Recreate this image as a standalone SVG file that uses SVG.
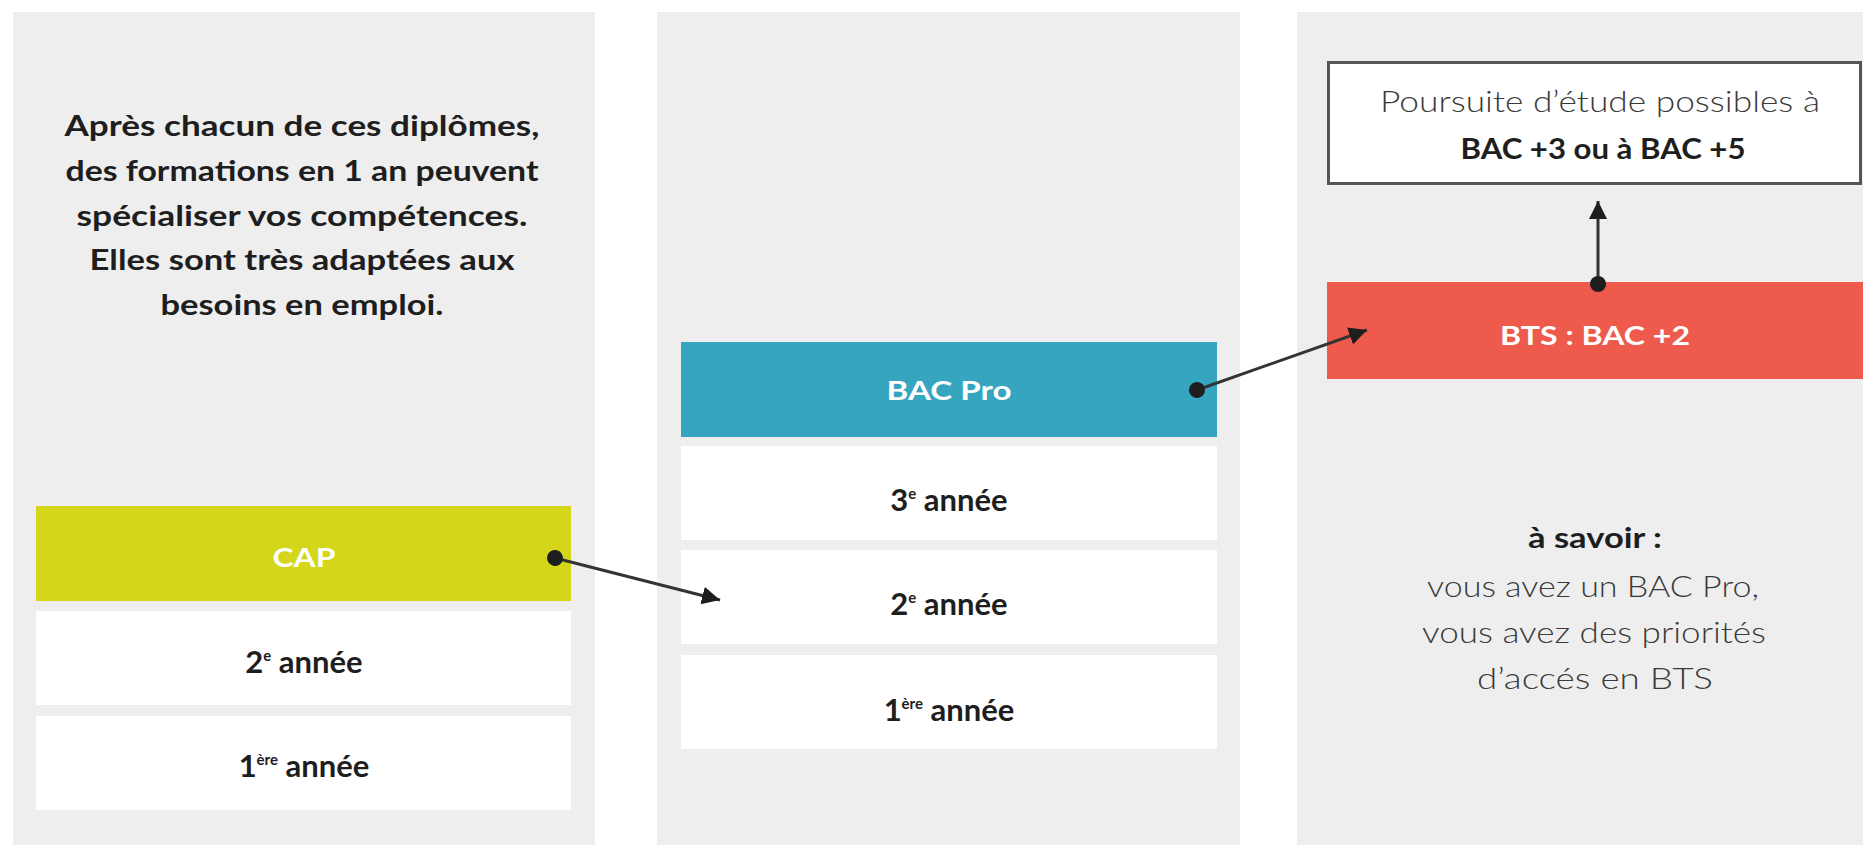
<svg xmlns="http://www.w3.org/2000/svg" width="1863" height="845" viewBox="0 0 1863 845">
  <defs>
    <style>
      .panel { fill: #eeeeee; }
      .row { fill: #ffffff; }
      .bold { font-family: Lato, "Open Sans", "Liberation Sans", sans-serif; font-weight: 700; }
      .light { font-family: Lato, "Open Sans", "Liberation Sans", sans-serif; font-weight: 300; fill: #3a3a3a; }
      .dark { fill: #1e1e1e; }
      .white { fill: #ffffff; }
      .mid { text-anchor: middle; }
      .lbl { font-size: 31px; }
      .conn { stroke: #333333; stroke-width: 3; fill: none; marker-start: url(#dot); marker-end: url(#arr); }
    </style>
    <marker id="arr" markerWidth="20" markerHeight="20" refX="18" refY="9" orient="auto" markerUnits="userSpaceOnUse">
      <path d="M0,0 L18,9 L0,18 z" fill="#1e1e1e"/>
    </marker>
    <marker id="dot" markerWidth="20" markerHeight="20" refX="10" refY="10" orient="auto" markerUnits="userSpaceOnUse">
      <circle cx="10" cy="10" r="8" fill="#1e1e1e"/>
    </marker>
  </defs>

  <rect x="0" y="0" width="1863" height="845" fill="#ffffff"/>

  <!-- Panels -->
  <g id="panel-left">
    <rect class="panel" x="13" y="12" width="582" height="833"/>
  </g>
  <g id="panel-middle">
    <rect class="panel" x="657" y="12" width="583" height="833"/>
  </g>
  <g id="panel-right">
    <rect class="panel" x="1297" y="12" width="566" height="833"/>
  </g>

  <!-- Left column -->
  <g id="note-left">
    <text class="bold dark mid" font-size="28" x="302" y="136" textLength="475" lengthAdjust="spacingAndGlyphs">Après chacun de ces diplômes,</text>
    <text class="bold dark mid" font-size="28" x="302" y="181" textLength="473" lengthAdjust="spacingAndGlyphs">des formations en 1 an peuvent</text>
    <text class="bold dark mid" font-size="28" x="302" y="226" textLength="451" lengthAdjust="spacingAndGlyphs">spécialiser vos compétences.</text>
    <text class="bold dark mid" font-size="28" x="302" y="270" textLength="425" lengthAdjust="spacingAndGlyphs">Elles sont très adaptées aux</text>
    <text class="bold dark mid" font-size="28" x="302" y="315" textLength="283" lengthAdjust="spacingAndGlyphs">besoins en emploi.</text>
  </g>

  <g id="cap">
    <rect x="36" y="506" width="535" height="95" fill="#d3d619"/>
    <text class="bold white mid" font-size="27" x="304" y="567" textLength="63" lengthAdjust="spacingAndGlyphs">CAP</text>
  </g>
  <g id="cap-2e">
    <rect class="row" x="36" y="611" width="535" height="94"/>
    <text class="bold dark mid lbl" x="304" y="673">2<tspan font-size="15" dy="-12">e</tspan><tspan dy="12"> année</tspan></text>
  </g>
  <g id="cap-1ere">
    <rect class="row" x="36" y="716" width="535" height="94"/>
    <text class="bold dark mid lbl" x="304" y="777">1<tspan font-size="15" dy="-12">ère</tspan><tspan dy="12"> année</tspan></text>
  </g>

  <!-- Middle column -->
  <g id="bacpro">
    <rect x="681" y="342" width="536" height="95" fill="#35a5c0"/>
    <text class="bold white mid" font-size="27" x="949" y="400" textLength="125" lengthAdjust="spacingAndGlyphs">BAC Pro</text>
  </g>
  <g id="bac-3e">
    <rect class="row" x="681" y="446" width="536" height="94"/>
    <text class="bold dark mid lbl" x="949" y="511">3<tspan font-size="15" dy="-12">e</tspan><tspan dy="12"> année</tspan></text>
  </g>
  <g id="bac-2e">
    <rect class="row" x="681" y="550" width="536" height="94"/>
    <text class="bold dark mid lbl" x="949" y="615">2<tspan font-size="15" dy="-12">e</tspan><tspan dy="12"> année</tspan></text>
  </g>
  <g id="bac-1ere">
    <rect class="row" x="681" y="655" width="536" height="94"/>
    <text class="bold dark mid lbl" x="949" y="721">1<tspan font-size="15" dy="-12">ère</tspan><tspan dy="12"> année</tspan></text>
  </g>

  <!-- Right column -->
  <g id="poursuite">
    <rect x="1328.5" y="62.5" width="532" height="121" fill="#ffffff" stroke="#555555" stroke-width="3"/>
    <text class="light mid" font-size="30" x="1600" y="112" textLength="440" lengthAdjust="spacingAndGlyphs">Poursuite d’étude possibles à</text>
    <text class="bold dark mid" font-size="29" x="1603" y="159" textLength="285" lengthAdjust="spacingAndGlyphs">BAC +3 ou à BAC +5</text>
  </g>
  <g id="bts">
    <rect x="1327" y="282" width="536" height="97" fill="#ee5a4b"/>
    <text class="bold white mid" font-size="27" x="1595" y="345" textLength="190" lengthAdjust="spacingAndGlyphs">BTS : BAC +2</text>
  </g>
  <g id="note-right">
    <text class="bold dark mid" font-size="28" x="1595" y="548" textLength="134" lengthAdjust="spacingAndGlyphs">à savoir :</text>
    <text class="light mid" font-size="29" x="1593" y="597" textLength="332" lengthAdjust="spacingAndGlyphs">vous avez un BAC Pro,</text>
    <text class="light mid" font-size="29" x="1594" y="643" textLength="344" lengthAdjust="spacingAndGlyphs">vous avez des priorités</text>
    <text class="light mid" font-size="29" x="1595" y="689" textLength="236" lengthAdjust="spacingAndGlyphs">d’accés en BTS</text>
  </g>

  <!-- Connectors -->
  <g id="connectors">
    <line class="conn" x1="555" y1="558" x2="720" y2="600"/>
    <line class="conn" x1="1197" y1="390" x2="1367" y2="330"/>
    <line class="conn" x1="1598" y1="284" x2="1598" y2="201"/>
  </g>
</svg>
